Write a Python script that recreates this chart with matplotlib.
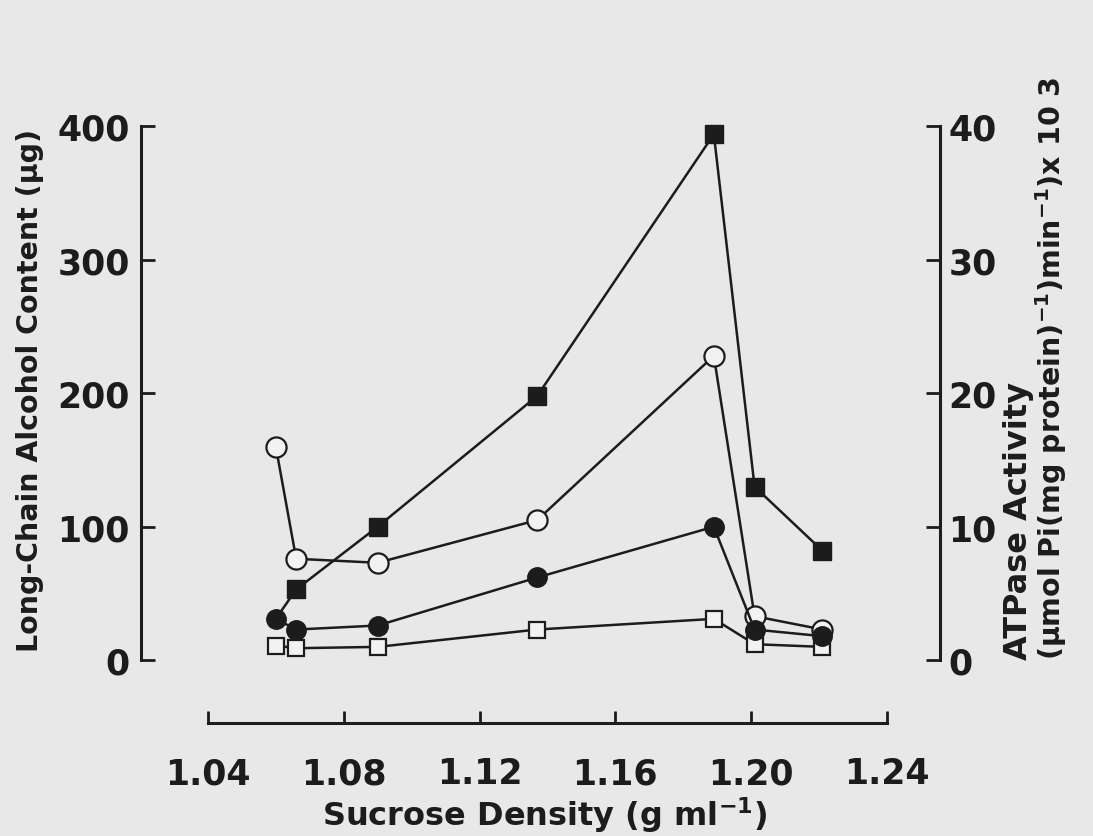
import matplotlib
matplotlib.use("Agg")
import matplotlib.pyplot as plt

# Sucrose density of each gradient fraction (g/ml)
density = [1.060, 1.066, 1.090, 1.137, 1.189, 1.201, 1.221]

# Series values, on the left-axis scale (right axis = left / 10)
filled_square = [31, 53, 100, 198, 394, 130, 82]
open_circle = [160, 76, 73, 105, 228, 33, 23]
filled_circle = [31, 23, 26, 62, 100, 23, 18]
open_square = [11, 9, 10, 23, 31, 12, 10]

x_ticks = [1.04, 1.08, 1.12, 1.16, 1.20, 1.24]
left_ticks = [0, 100, 200, 300, 400]
right_ticks = [0, 10, 20, 30, 40]

BG = "#e8e8e8"
INK = "#1c1c1c"
FONT = "DejaVu Sans"

fig = plt.figure(figsize=(10.93, 8.37), dpi=100, facecolor=BG)
ax = fig.add_axes([0.129, 0.210, 0.731, 0.638])
ax.set_facecolor(BG)
ax.patch.set_alpha(0)

ax.set_xlim(1.0203, 1.2556)
ax.set_ylim(0, 400)

line_kw = dict(color=INK, lw=1.8, clip_on=False)

# filled squares: the first point sits under the filled circle, so no marker there
ax.plot(density, filled_square, marker="s", ms=12.5, mfc=INK, mec=INK,
        markevery=slice(1, None), zorder=2, **line_kw)
ax.plot(density, open_square, marker="s", ms=12, mfc="#f2f2f2", mec=INK,
        mew=1.6, zorder=3, **line_kw)
ax.plot(density, open_circle, marker="o", ms=14.5, mfc="#f2f2f2", mec=INK,
        mew=1.6, zorder=4, **line_kw)
ax.plot(density, filled_circle, marker="o", ms=14, mfc=INK, mec=INK,
        zorder=5, **line_kw)

# axes frame: open style with detached x axis
for side in ("top", "right"):
    ax.spines[side].set_visible(False)
ax.spines["left"].set_bounds(0, 400)
ax.spines["bottom"].set_position(("outward", 45))
ax.spines["bottom"].set_bounds(1.04, 1.24)
for side in ("left", "bottom"):
    ax.spines[side].set_linewidth(2.2)
    ax.spines[side].set_color(INK)

ax.set_xticks(x_ticks)
ax.set_xticklabels([f"{v:.2f}" for v in x_ticks])
ax.set_yticks(left_ticks)
ax.set_yticklabels([str(v) for v in left_ticks])
ax.tick_params(axis="x", direction="in", length=9, width=2, color=INK,
               labelsize=25, pad=24, labelcolor=INK)
ax.tick_params(axis="y", direction="in", length=10, width=2, color=INK,
               labelsize=25, pad=8, labelcolor=INK)
for lab in ax.get_xticklabels() + ax.get_yticklabels():
    lab.set_fontweight("bold")
    lab.set_family(FONT)

# right axis
ax2 = ax.twinx()
ax2.set_ylim(0, 40)
for side in ("top", "left", "bottom"):
    ax2.spines[side].set_visible(False)
ax2.spines["right"].set_bounds(0, 40)
ax2.spines["right"].set_linewidth(2.2)
ax2.spines["right"].set_color(INK)
ax2.set_yticks(right_ticks)
ax2.set_yticklabels([str(v) for v in right_ticks])
ax2.tick_params(axis="y", direction="in", length=10, width=2, color=INK,
                labelsize=25, pad=6, labelcolor=INK)
for lab in ax2.get_yticklabels():
    lab.set_fontweight("bold")
    lab.set_family(FONT)

W, H = 1093, 837
txt = dict(family=FONT, fontweight="bold", color=INK)

fig.text(30 / W, 1 - 390 / H, "Long-Chain Alcohol Content (µg)",
         rotation=90, ha="center", va="center", fontsize=20.5, **txt)
fig.text(545 / W, 1 - 815 / H, r"Sucrose Density (g ml$^{\mathbf{-1}}$)",
         ha="center", va="center", fontsize=23, **txt)
fig.text(1019 / W, 1 - 660 / H, "ATPase Activity",
         rotation=90, ha="center", va="bottom", fontsize=23, **txt)
fig.text(1051 / W, 1 - 660 / H,
         r"(µmol Pi(mg protein)$^{\mathbf{-1}}$)min$^{\mathbf{-1}}$)x 10 3",
         rotation=90, ha="center", va="bottom", fontsize=20.5, **txt)

fig.savefig("out.png", dpi=100, facecolor=BG)
